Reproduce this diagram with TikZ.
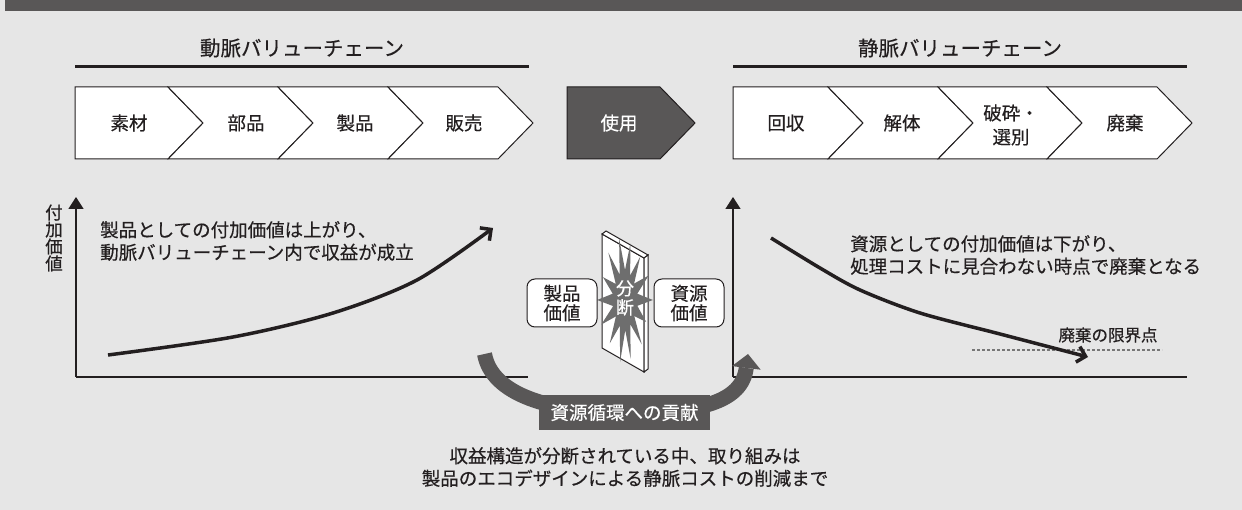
\documentclass[tikz,border=0pt]{standalone}
\usepackage{fontspec}
\setmainfont{Noto Sans CJK JP}[FakeBold=0.4]
\usepackage{tikz}
\usepackage{xcolor}
\usetikzlibrary{arrows.meta}

\definecolor{panelgray}{HTML}{E6E6E6}
\definecolor{barcol}{HTML}{595757}
\definecolor{burstgray}{HTML}{6E6E6E}
\definecolor{inkblack}{HTML}{231F20}
\definecolor{dotgray}{HTML}{777777}

\tikzset{
  ttl/.style={font=\fontsize{20.5}{24}\selectfont,text=inkblack,inner sep=0pt},
  lbl/.style={font=\fontsize{18.5}{22.5}\selectfont,text=inkblack,inner sep=0pt},
  chev/.style={draw=inkblack,fill=white,line width=1pt,line join=miter},
  axis/.style={draw=inkblack,line width=1.6pt},
  curve/.style={draw=inkblack,line width=3.5pt,-{Straight Barb[length=8pt,width=16pt]}},
  valbox/.style={draw=inkblack,fill=white,line width=1pt,rounded corners=8pt,
    minimum width=70pt,minimum height=48pt,align=center,
    font=\fontsize{18.5}{19.5}\selectfont,text=inkblack,inner sep=0pt},
  band/.style={draw=barcol,line width=15pt},
}

\begin{document}
\begin{tikzpicture}[x=1pt,y=-1pt]
        \useasboundingbox (0,0) rectangle (1242,510);
        \fill[panelgray] (0,0) rectangle (1242,510);
        \fill[barcol] (5,0) rectangle (1242,11);
        % chain titles
        \node[ttl] (douTitle) at (302,48) {動脈バリューチェーン};
        \draw[line width=3pt,inkblack] (75,67) -- (529,67);
        \node[ttl] (jouTitle) at (960,48) {静脈バリューチェーン};
        \draw[line width=3pt,inkblack] (733,67) -- (1187,67);
        % arterial chain
        \draw[chev] (75,87) -- (168,87) -- (203,123) -- (168,159) -- (75,159) -- cycle;
        \draw[chev] (168,87) -- (278,87) -- (313,123) -- (278,159) -- (168,159) -- (203,123) -- cycle;
        \draw[chev] (278,87) -- (388,87) -- (423,123) -- (388,159) -- (278,159) -- (313,123) -- cycle;
        \draw[chev] (388,87) -- (498,87) -- (533,123) -- (498,159) -- (388,159) -- (423,123) -- cycle;
        \node[lbl] (sozai) at (129,123) {素材};
        \node[lbl] (buhin) at (246,123) {部品};
        \node[lbl] (seihin) at (355,123) {製品};
        \node[lbl] (hanbai) at (464,123) {販売};
        % use phase
        \draw[chev,fill=barcol] (567,87) -- (660,87) -- (695,123) -- (660,159) -- (567,159) -- cycle;
        \node[lbl,text=white] (shiyou) at (619,123) {使用};
        % venous chain
        \draw[chev] (733,87) -- (828,87) -- (863,123) -- (828,159) -- (733,159) -- cycle;
        \draw[chev] (828,87) -- (938,87) -- (973,123) -- (938,159) -- (828,159) -- (863,123) -- cycle;
        \draw[chev] (938,87) -- (1047,87) -- (1082,123) -- (1047,159) -- (938,159) -- (973,123) -- cycle;
        \draw[chev] (1047,87) -- (1157,87) -- (1192,123) -- (1157,159) -- (1047,159) -- (1082,123) -- cycle;
        \node[lbl] (kaishuu) at (786,123) {回収};
        \node[lbl] (kaitai) at (902,123) {解体};
        \node[lbl,align=center,font=\fontsize{18.5}{24}\selectfont] (hasai) at (1011,125) {破砕・\\選別};
        \node[lbl] (haiki) at (1125,123) {廃棄};
        % left graph
        \coordinate (lo) at (76,377);
        \draw[axis,-{Triangle[length=12pt,width=15pt]}] (lo) -- (76,197);
        \draw[axis] (lo) -- (528,377);
        \node[lbl,align=center,font=\fontsize{17.5}{17}\selectfont] (fuka) at (54,238) {付\\加\\価\\値};
        \node[lbl,align=left,anchor=west] (upText) at (100,241)
            {製品としての付加価値は上がり、\\動脈バリューチェーン内で収益が成立};
        \draw[curve] plot[smooth] coordinates {(108,355) (233,337) (333,313) (417,280) (493,228)};
        % right graph
        \coordinate (ro) at (733,377);
        \draw[axis,-{Triangle[length=12pt,width=15pt]}] (ro) -- (733,197);
        \draw[axis] (ro) -- (1187,377);
        \node[lbl,align=left,anchor=west] (downText) at (850,255)
            {資源としての付加価値は下がり、\\処理コストに見合わない時点で廃棄となる};
        \draw[dotgray,line width=1.2pt,dash pattern=on 2.5pt off 2.5pt] (972,350) -- (1162,350);
        \node[lbl,font=\fontsize{16.5}{18}\selectfont] (genkai) at (1108,335) {廃棄の限界点};
        \draw[curve] plot[smooth] coordinates {(771,238) (820,268) (860,290) (920,313) (1000,334) (1088,357)};
        % the wall between the chains
        \filldraw[chev] (602,234) -- (644,258) -- (644,372) -- (602,348) -- cycle;
        \filldraw[chev] (602,234) -- (606,231) -- (648,255) -- (644,258) -- cycle;
        \filldraw[chev] (644,258) -- (648,255) -- (648,369) -- (644,372) -- cycle;
        \begin{scope}[shift={(625,300)},xscale=0.45]
            \fill[burstgray] (0:62) -- (12:28) -- (25:52) -- (38:26) -- (50:58) -- (64:27) -- (78:60)
                -- (89:30) -- (100:63) -- (114:28) -- (128:55) -- (141:26) -- (155:58) -- (167:27)
                -- (180:62) -- (193:28) -- (205:54) -- (218:26) -- (232:60) -- (245:28) -- (258:63)
                -- (270:30) -- (282:58) -- (295:27) -- (308:55) -- (321:26) -- (335:58) -- (347:28) -- cycle;
        \end{scope}
        \node[lbl,align=center,text=white,font=\fontsize{18}{19}\selectfont] (bunDan) at (625,298) {分\\断};
        \node[valbox] (prodVal) at (562,303) {製品\\価値};
        \node[valbox] (resVal) at (689,303) {資源\\価値};
        % contribution to the resource cycle
        \draw[band,-{Triangle[length=14pt,width=29pt,line width=0pt]}] (484.5,354)
            .. controls (492,395) and (550,412) .. (625,413)
            .. controls (700,413) and (742,402) .. (748,354);
        \node[lbl,fill=barcol,text=white,minimum width=171pt,minimum height=35pt] (junkan) at (624.5,412.5) {資源循環への貢献};
        \node[lbl,align=center] (torikumi) at (625,467)
            {収益構造が分断されている中、取り組みは\\製品のエコデザインによる静脈コストの削減まで};
    \end{tikzpicture}
\end{document}
